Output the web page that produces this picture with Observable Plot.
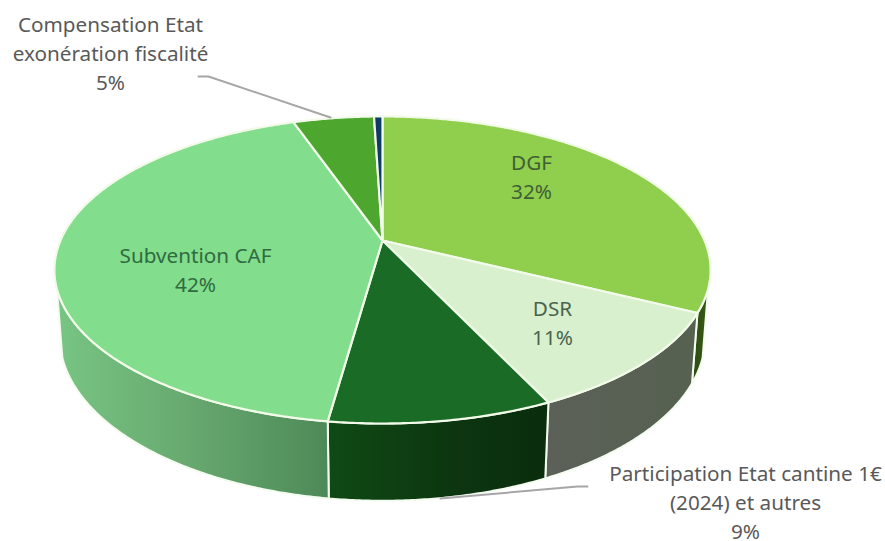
<!DOCTYPE html>
<html>
<head>
<meta charset="utf-8">
<script src="https://cdn.jsdelivr.net/npm/d3@7"></script>
<script src="https://cdn.jsdelivr.net/npm/@observablehq/plot@0.6"></script>
<style>html,body{margin:0;padding:0;background:#fff}svg{display:block}</style>
</head>
<body>
<div id="chart"></div>
<script>
const categories = ["DGF", "DSR", "Participation Etat cantine 1€ (2024) et autres", "Subvention CAF", "Compensation Etat exonération fiscalité", "Autres"];
const values = [32.4, 10.6, 9.2, 42.5, 4.8, 0.5];
const topColors = ["#90cf4e", "#d8f0cd", "#1a6b25", "#82dd8c", "#4da62d", "#0f3a66"];
const wallColors = ["url(#wallDGF)", "url(#wallDSR)", "url(#wallPart)", "url(#wallCAF)", "#2f6b1e", "#0a2644"];
const labelTexts = ["DGF\n32%", "DSR\n11%", "Participation Etat cantine 1€\n(2024) et autres\n9%", "Subvention CAF\n42%", "Compensation Etat\nexonération fiscalité\n5%"];
const labelX = [531, 552, 745, 195, 110];
const labelY = [175, 321, 500, 268, 51];
const labelColors = ["#3f5f35", "#4a6350", "#595959", "#2f6b3f", "#595959"];
const leaderCompensation = [[198, 76], [208, 76], [330, 117]];
const leaderParticipation = [[440, 498], [577, 486], [587, 486]];

// Perspective view of a disc (fitted to the picture)
const cx = 382, A = 322, a = 101.8, c = -0.192, bTop = 240, bBottom = 310.4, e = 0.016;
const project = (theta, r, bottom) => {
  const u = r * Math.sin(theta), v = -r * Math.cos(theta);
  const w = 1 + c * v + (bottom ? e : 0);
  return {x: cx + A * u / w, y: (a * v + (bottom ? bBottom : bTop)) / w};
};
const visibleFrom = 108 * Math.PI / 180, visibleTo = 252 * Math.PI / 180;
const sweep = (a0, a1) => {
  const n = Math.max(2, Math.ceil((a1 - a0) / 0.008));
  return d3.range(n + 1).map(k => a0 + (a1 - a0) * k / n);
};
const total = d3.sum(values);
let acc = 0;
const slices = values.map((val, i) => {
  const a0 = acc / total * 2 * Math.PI; acc += val;
  const a1 = acc / total * 2 * Math.PI;
  return {i, a0, a1};
});
const topFace = s => {
  const pts = [project(0, 0, false), ...sweep(s.a0, s.a1).map(t => project(t, 1, false))];
  return [...pts, pts[0]];
};
const wallFace = s => {
  const thetas = sweep(Math.max(s.a0, visibleFrom), Math.min(s.a1, visibleTo));
  const pts = [...thetas.map(t => project(t, 1, false)), ...[...thetas].reverse().map(t => project(t, 1, true))];
  return [...pts, pts[0]];
};

const gradient = (id, x1, x2, stops) =>
  `<linearGradient id="${id}" gradientUnits="userSpaceOnUse" x1="${x1}" x2="${x2}" y1="0" y2="0">` +
  stops.map(([o, col]) => `<stop offset="${o}" stop-color="${col}"/>`).join("") + `</linearGradient>`;
const defs = () => {
  const g = d3.create("svg:defs");
  g.html(
    gradient("wallCAF", 56, 326, [[0, "#78c583"], [0.5, "#67a86f"], [1, "#4e8a58"]]) +
    gradient("wallPart", 326, 548, [[0, "#0f4a14"], [0.6, "#0c3510"], [1, "#0a2d0c"]]) +
    gradient("wallDSR", 548, 697, [[0, "#5b6058"], [1, "#566150"]]) +
    gradient("wallDGF", 690, 711, [[0, "#2c4a12"], [1, "#3a5c18"]])
  );
  return g.node();
};

const walls = slices
  .filter(s => s.a1 > visibleFrom && s.a0 < visibleTo)
  .map(s => Plot.line(wallFace(s), {x: "x", y: "y", fill: wallColors[s.i], stroke: "#f4fbf0", strokeWidth: 2, strokeLinejoin: "round"}));
const tops = slices.map(s =>
  Plot.line(topFace(s), {x: "x", y: "y", fill: topColors[s.i], stroke: "#f2faea", strokeWidth: 2.2, strokeLinejoin: "round"}));
const leader = pts => Plot.line(pts, {x: d => d[0], y: d => d[1], stroke: "#a6a6a6", strokeWidth: 2});

const labels = labelTexts.map((t, i) => ({t, x: labelX[i], y: labelY[i], col: labelColors[i]}));

const plot = Plot.plot({
  width: 885, height: 541,
  margin: 0,
  x: {domain: [0, 885], range: [0, 885], axis: null},
  y: {domain: [0, 541], range: [0, 541], axis: null},
  marks: [
    defs,
    ...walls,
    ...tops,
    leader(leaderCompensation),
    leader(leaderParticipation),
    Plot.text(labels, {x: "x", y: "y", text: "t", fill: "col", fontSize: 20.7, lineHeight: 1.4,
      fontFamily: "Noto Sans", textAnchor: "middle"})
  ]
});
document.getElementById("chart").append(plot);
</script>
</body>
</html>
